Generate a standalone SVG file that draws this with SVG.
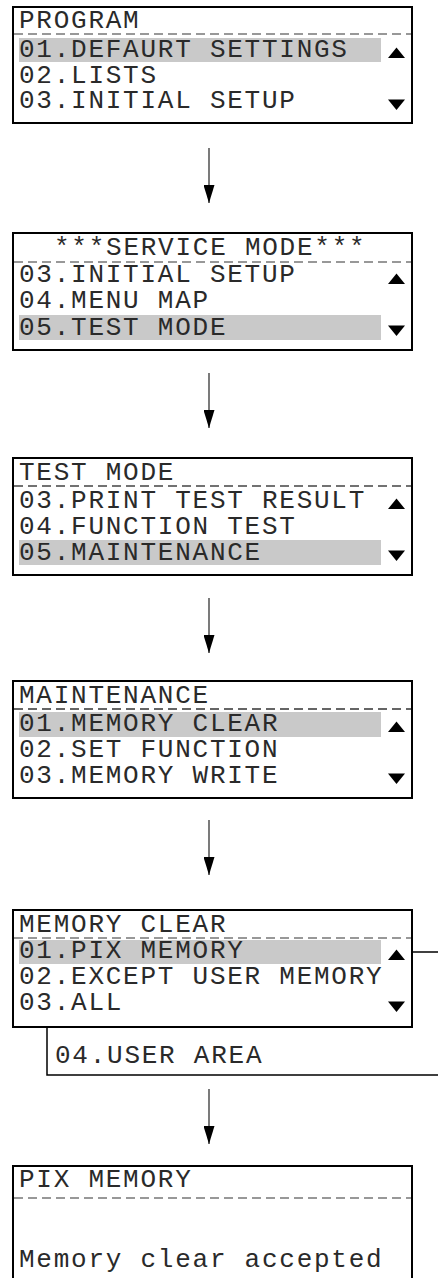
<svg xmlns="http://www.w3.org/2000/svg" width="438" height="1278" viewBox="0 0 438 1278">
  <style>
    .frame { fill: #fff; stroke: #000; stroke-width: 2; }
    .sep { stroke: #777; stroke-width: 1.5; stroke-dasharray: 9 5; fill: none; }
    .sel { fill: #c9c9c9; }
    .lcd { font-family: "Liberation Mono", "DejaVu Sans Mono", monospace; font-size: 26px; letter-spacing: 1.75px; fill: #2a2a2a; }
    .tri { fill: #000; }
    .flow { stroke: #333; stroke-width: 1.3; fill: none; }
    .link { stroke: #000; stroke-width: 1.5; fill: none; }
  </style>
  <defs>
    <!-- arrowhead drawn along +x so orient="auto" follows the line -->
    <marker id="head" markerWidth="18" markerHeight="11" refX="18" refY="5.5" orient="auto" markerUnits="userSpaceOnUse" viewBox="0 0 18 11">
      <path d="M0,0 L18,5.5 L0,11 Z" fill="#000"/>
    </marker>
    <path id="up" d="M396.5,40.5 L405,51 L388,51 Z"/>
    <path id="down" d="M388,92.5 L405,92.5 L396.5,103 Z"/>
  </defs>

  <rect width="438" height="1278" fill="#fff"/>

  <!-- screen: PROGRAM -->
  <g id="program">
    <rect class="frame" x="13" y="7" width="399" height="116"/>
    <rect class="sel" x="19" y="38" width="362" height="24"/>
    <line class="sep" x1="14" y1="34" x2="411" y2="34"/>
    <text class="lcd" x="19" y="28">PROGRAM</text>
    <text class="lcd" x="19" y="57">01.DEFAURT SETTINGS</text>
    <text class="lcd" x="19" y="83">02.LISTS</text>
    <text class="lcd" x="19" y="108">03.INITIAL SETUP</text>
    <use href="#up" class="tri" y="7"/>
    <use href="#down" class="tri" y="7"/>
  </g>

  <!-- screen: SERVICE MODE -->
  <g id="service-mode">
    <rect class="frame" x="13" y="233" width="399" height="117"/>
    <rect class="sel" x="19" y="315" width="362" height="25"/>
    <line class="sep" x1="14" y1="262" x2="411" y2="262"/>
    <text class="lcd" x="54" y="255">***SERVICE MODE***</text>
    <text class="lcd" x="19" y="282">03.INITIAL SETUP</text>
    <text class="lcd" x="19" y="308">04.MENU MAP</text>
    <text class="lcd" x="19" y="335">05.TEST MODE</text>
    <use href="#up" class="tri" y="233"/>
    <use href="#down" class="tri" y="233"/>
  </g>

  <!-- screen: TEST MODE -->
  <g id="test-mode">
    <rect class="frame" x="13" y="458" width="399" height="117"/>
    <rect class="sel" x="19" y="540" width="362" height="25"/>
    <line class="sep" x1="14" y1="486" x2="411" y2="486" style="stroke:#444"/>
    <text class="lcd" x="19" y="480">TEST MODE</text>
    <text class="lcd" x="19" y="508">03.PRINT TEST RESULT</text>
    <text class="lcd" x="19" y="534">04.FUNCTION TEST</text>
    <text class="lcd" x="19" y="560">05.MAINTENANCE</text>
    <use href="#up" class="tri" y="458"/>
    <use href="#down" class="tri" y="458"/>
  </g>

  <!-- screen: MAINTENANCE -->
  <g id="maintenance">
    <rect class="frame" x="13" y="681" width="399" height="117"/>
    <rect class="sel" x="19" y="712" width="362" height="25"/>
    <line class="sep" x1="14" y1="709" x2="411" y2="709" style="stroke:#333"/>
    <text class="lcd" x="19" y="703">MAINTENANCE</text>
    <text class="lcd" x="19" y="731">01.MEMORY CLEAR</text>
    <text class="lcd" x="19" y="757">02.SET FUNCTION</text>
    <text class="lcd" x="19" y="783">03.MEMORY WRITE</text>
    <use href="#up" class="tri" y="681"/>
    <use href="#down" class="tri" y="681"/>
  </g>

  <!-- screen: MEMORY CLEAR -->
  <g id="memory-clear">
    <rect class="frame" x="13" y="910" width="399" height="117"/>
    <rect class="sel" x="19" y="940" width="362" height="24"/>
    <line class="sep" x1="14" y1="938" x2="411" y2="938"/>
    <text class="lcd" x="19" y="958">01.PIX MEMORY</text>
    <text class="lcd" x="19" y="932">MEMORY CLEAR</text>
    <text class="lcd" x="19" y="984">02.EXCEPT USER MEMORY</text>
    <text class="lcd" x="19" y="1010">03.ALL</text>
    <use href="#up" class="tri" y="909"/>
    <use href="#down" class="tri" y="909"/>
  </g>

  <!-- fourth entry, below the visible window -->
  <g id="user-area">
    <text class="lcd" x="55" y="1063">04.USER AREA</text>
  </g>

  <!-- screen: PIX MEMORY -->
  <g id="pix-memory">
    <rect class="frame" x="13" y="1166" width="399" height="130"/>
    <line class="sep" x1="14" y1="1198" x2="411" y2="1198"/>
    <text class="lcd" x="19" y="1187">PIX MEMORY</text>
    <text class="lcd" x="19" y="1267">Memory clear accepted</text>
  </g>

  <g id="connectors">
    <line class="flow" x1="209" y1="148" x2="209" y2="203" marker-end="url(#head)"/>
    <line class="flow" x1="209" y1="373" x2="209" y2="428" marker-end="url(#head)"/>
    <line class="flow" x1="209" y1="598" x2="209" y2="653" marker-end="url(#head)"/>
    <line class="flow" x1="209" y1="820" x2="209" y2="875" marker-end="url(#head)"/>
    <line class="flow" x1="209" y1="1089" x2="209" y2="1144" marker-end="url(#head)"/>
    <line class="link" x1="412" y1="952" x2="438" y2="952"/>
    <polyline class="link" points="47,1027 47,1075 438,1075"/>
  </g>
</svg>
